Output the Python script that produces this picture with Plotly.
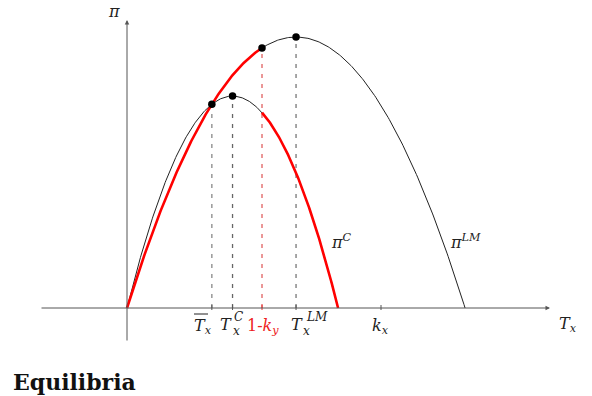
import numpy as np
import plotly.graph_objects as go

W, H = 592, 396

# ---- values (T in units of k_x, profit in units of max pi^LM)
T_C_END = 0.831      # pi^C back to zero
PI_C_MAX = 0.782     # peak of pi^C
T_LM_END = 1.331     # pi^LM back to zero
PI_LM_MAX = 1.0      # peak of pi^LM
ONE_MINUS_KY = 0.5315
K_X = 1.0

# pixel mapping of the drawing (origin at px (127,308))
X0PX, Y0PX, XS, YS = 127, 308, 254, 271
XR = [-X0PX / XS, (W - X0PX) / XS]
YR = [-(H - Y0PX) / YS, Y0PX / YS]


def pi_c(t):
    return 4 * PI_C_MAX * t * (T_C_END - t) / T_C_END ** 2


def pi_lm(t):
    return 4 * PI_LM_MAX * t * (T_LM_END - t) / T_LM_END ** 2


a = 4 * PI_C_MAX / T_C_END ** 2
b = 4 * PI_LM_MAX / T_LM_END ** 2
T_BAR = (a * T_C_END - b * T_LM_END) / (a - b)
T_C = T_C_END / 2
T_LM = T_LM_END / 2

fig = go.Figure()

tc = np.linspace(0, T_C_END, 300)
tl = np.linspace(0, T_LM_END, 300)
fig.add_trace(go.Scatter(x=tc, y=pi_c(tc), mode="lines", line=dict(color="#222", width=1)))
fig.add_trace(go.Scatter(x=tl, y=pi_lm(tl), mode="lines", line=dict(color="#222", width=1)))

# vertical dashed guides
guides = [(T_BAR, pi_c(T_BAR), "#888"), (T_C, pi_c(T_C), "#666"),
          (ONE_MINUS_KY, pi_lm(ONE_MINUS_KY), "#e06060"), (T_LM, pi_lm(T_LM), "#777")]
for tv, top, col in guides:
    fig.add_trace(go.Scatter(x=[tv, tv], y=[0, top], mode="lines",
                             line=dict(color=col, width=1.3, dash="4px,6px")))

# red equilibrium profit
r1 = np.linspace(0, ONE_MINUS_KY, 200)
r2 = np.linspace(ONE_MINUS_KY, T_C_END, 200)
fig.add_trace(go.Scatter(x=r1, y=pi_lm(r1), mode="lines", line=dict(color="#f00", width=2.6)))
fig.add_trace(go.Scatter(x=r2, y=pi_c(r2), mode="lines", line=dict(color="#f00", width=2.6)))

# dots
dx = [T_BAR, T_C, ONE_MINUS_KY, T_LM]
dy = [pi_c(T_BAR), pi_c(T_C), pi_lm(ONE_MINUS_KY), pi_lm(T_LM)]
fig.add_trace(go.Scatter(x=dx, y=dy, mode="markers", marker=dict(color="#000", size=7.5)))

shapes = []
# ticks on x-axis
for tv, col in [(T_BAR, "#555"), (T_C, "#555"), (ONE_MINUS_KY, "#e33"), (T_LM, "#555"), (K_X, "#555")]:
    shapes.append(dict(type="line", xref="x", yref="y", x0=tv, x1=tv, y0=-2 / YS, y1=3 / YS,
                       line=dict(color=col, width=1)))

# axes with arrows
ann = []
ann.append(dict(x=(550 - X0PX) / XS, y=0, ax=(40 - X0PX) / XS, ay=0, xref="x", yref="y",
                axref="x", ayref="y", showarrow=True, arrowhead=2, arrowsize=0.9,
                arrowwidth=1, arrowcolor="#555", text=""))
ann.append(dict(x=0, y=(Y0PX - 20) / YS, ax=0, ay=(Y0PX - 342) / YS, xref="x", yref="y",
                axref="x", ayref="y", showarrow=True, arrowhead=2, arrowsize=0.9,
                arrowwidth=1, arrowcolor="#555", text=""))

FONT = "DejaVu Serif"


def lab(xp, yp, text, size=16, color="#222", xanchor="center"):
    ann.append(dict(xref="paper", yref="paper", x=xp / W, y=1 - yp / H, text=text,
                    showarrow=False, xanchor=xanchor, yanchor="middle",
                    font=dict(family=FONT, size=size, color=color)))


lab(114, 11, "<i>π</i>")
lab(568, 324, "<i>T</i><sub><i>x</i></sub>")
lab(341, 241, "<i>π</i><sup><i>C</i></sup>")
lab(465, 241, "<i>π</i><sup><i>LM</i></sup>")
# tick labels
lab(203, 326, "<i>T</i><sub><i>x</i></sub>")
shapes.append(dict(type="line", xref="paper", yref="paper", x0=194 / W, x1=208 / W,
                   y0=1 - 314 / H, y1=1 - 314 / H, line=dict(color="#222", width=1)))
lab(226, 324, "<i>T</i>")
lab(238, 317, "<i>C</i>", size=12)
lab(236, 331, "<i>x</i>", size=12)
lab(263, 326, "1-<i>k</i><sub><i>y</i></sub>", color="#e22")
lab(297, 324, "<i>T</i>")
lab(317, 317, "<i>LM</i>", size=12)
lab(306, 331, "<i>x</i>", size=12)
lab(381, 326, "<i>k</i><sub><i>x</i></sub>")

ann.append(dict(xref="paper", yref="paper", x=11 / W, y=1 - 382 / H, text="<b>Equilibria</b>",
                showarrow=False, xanchor="left", yanchor="middle",
                font=dict(family="DejaVu Serif", size=22, color="#111")))

fig.update_layout(
    width=W, height=H, margin=dict(l=0, r=0, t=0, b=0),
    paper_bgcolor="white", plot_bgcolor="white", showlegend=False,
    xaxis=dict(range=XR, visible=False, fixedrange=True),
    yaxis=dict(range=YR, visible=False, fixedrange=True),
    shapes=shapes, annotations=ann,
)
fig.write_html("out.html")
